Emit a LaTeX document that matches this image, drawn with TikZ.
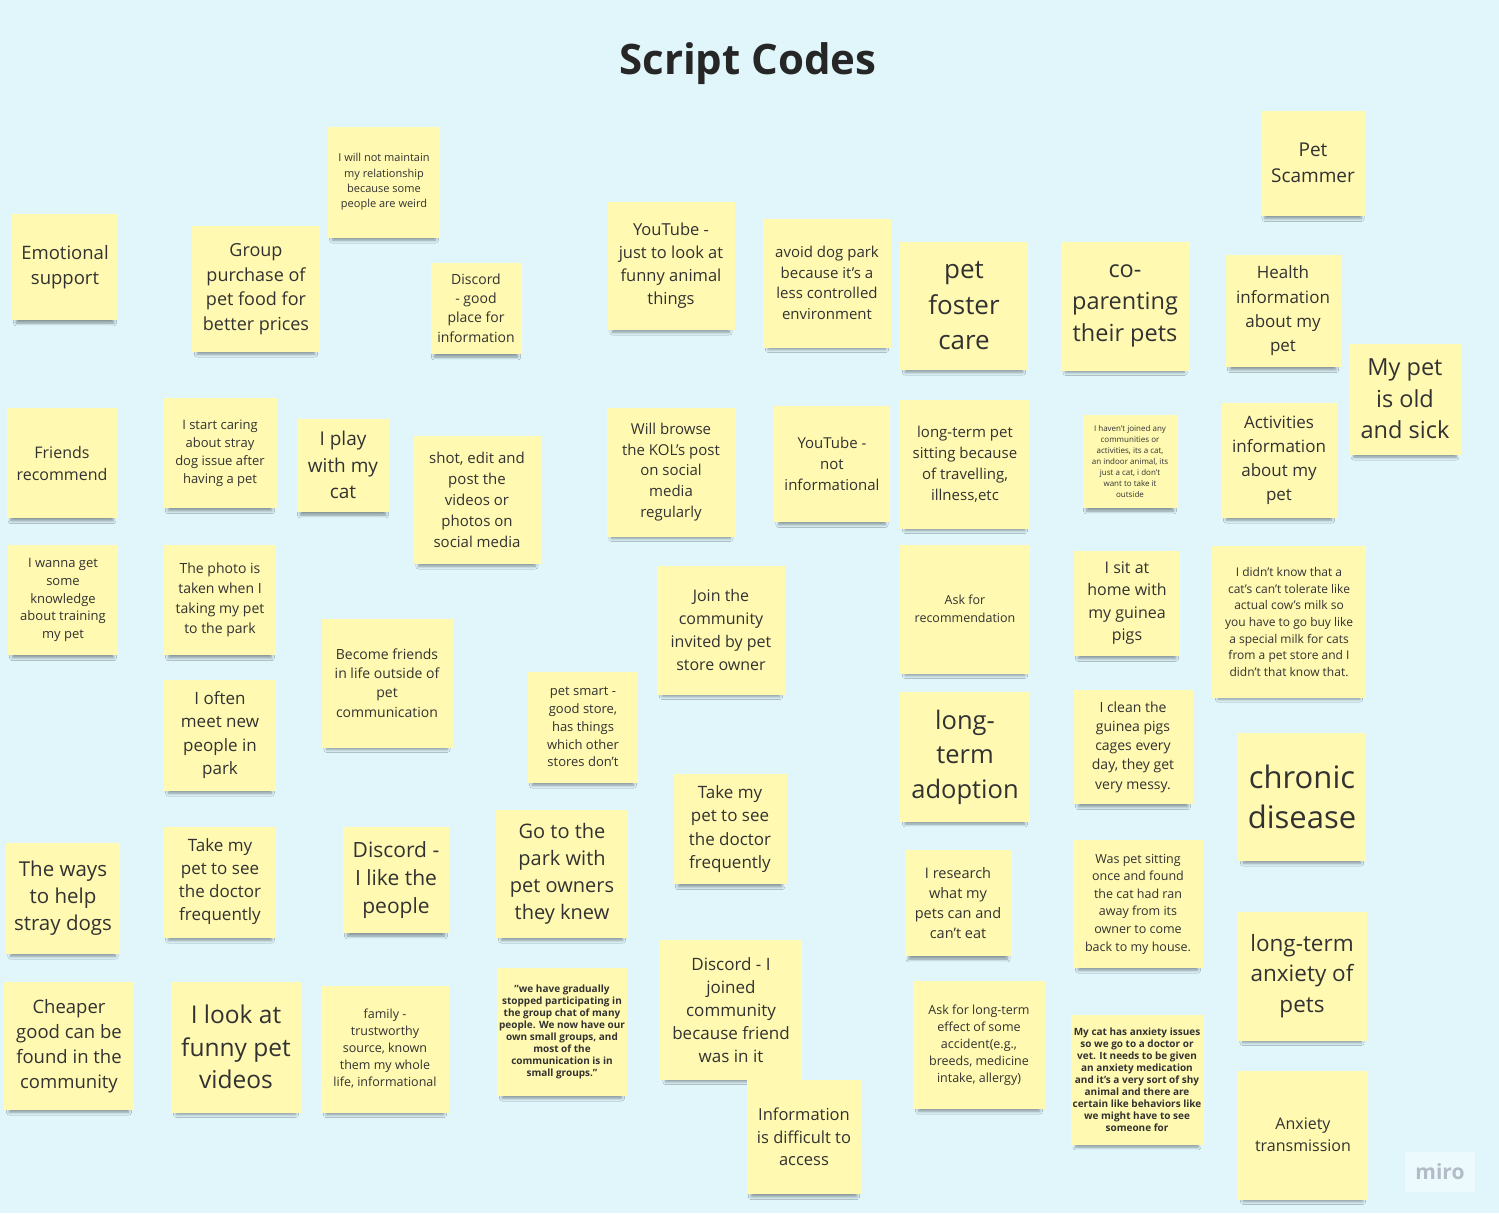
\documentclass[tikz,border=0pt]{standalone}
\usepackage{fontspec}
\setmainfont{Open Sans}
\usetikzlibrary{shadows.blur}

\definecolor{board}{RGB}{224,246,251}
\definecolor{sticky}{RGB}{255,249,177}
\definecolor{ink}{RGB}{50,50,50}
\definecolor{logo}{RGB}{178,188,198}

\begin{document}
\begin{tikzpicture}[x=1pt, y=-1pt,
  note/.style 2 args={fill=sticky, text=ink, align=center, inner sep=0pt,
    minimum width=#1pt, minimum height=#2pt,
    blur shadow={shadow xshift=0pt, shadow yshift=-8pt, shadow scale=0.92,
      shadow blur radius=3pt, shadow blur steps=6, shadow opacity=40}},
  fs/.style 2 args={font=\fontsize{#1}{#2}\selectfont}]

\fill[board] (0,0) rectangle (1499,1213);
\useasboundingbox (0,0) rectangle (1499,1213);

\node[font=\fontsize{42}{50}\selectfont\bfseries, text=black!85] (title) at (748,64) {Script Codes};

% first band
\node[note={106}{106}, fs={18.5}{25}] (emo) at (65,267) {Emotional\\support};
\node[note={128}{126}, fs={18}{24.7}] (group) at (256,289) {Group\\purchase of\\pet food for\\better prices};
\node[note={112}{111}, fs={11}{15.3}] (weird) at (384,182) {I will not maintain\\my relationship\\because some\\people are weird};
\node[note={91}{91}, fs={14}{19.3}] (discA) at (476,308) {Discord\\- good\\place for\\information};
\node[note={127}{128}, fs={16.5}{23}] (ytA) at (671,266) {YouTube -\\just to look at\\funny animal\\things};
\node[note={128}{129}, fs={15}{20.7}] (avoid) at (827,283) {avoid dog park\\because it's a\\less controlled\\environment};
\node[note={128}{128}, fs={26}{35.5}] (foster) at (964,306) {pet\\foster\\care};
\node[note={129}{129}, fs={23.5}{32}] (copar) at (1125,306) {co-\\parenting\\their pets};
\node[note={105}{105}, fs={19}{26}] (scam) at (1313,163) {Pet\\Scammer};
\node[note={115}{112}, fs={17}{24.3}] (health) at (1283,311) {Health\\information\\about my\\pet};
\node[note={111}{111}, fs={23.5}{31.5}] (old) at (1405,399) {My pet\\is old\\and sick};

% second band
\node[note={111}{110}, fs={16}{22}] (friends) at (62,463) {Friends\\recommend};
\node[note={113}{110}, fs={13}{18}] (stray) at (220,453) {I start caring\\about stray\\dog issue after\\having a pet};
\node[note={93}{93}, fs={19}{26.5}] (play) at (343,465) {I play\\with my\\cat};
\node[note={127}{128}, fs={15}{21}] (shot) at (477,500) {shot, edit and\\post the\\videos or\\photos on\\social media};
\node[note={129}{129}, fs={15}{20.8}] (kol) at (671,472) {Will browse\\the KOL's post\\on social\\media\\regularly};
\node[note={116}{116}, fs={15}{21}] (ytB) at (832,464) {YouTube -\\not\\informational};
\node[note={130}{129}, fs={15}{21}] (sitting) at (965,464) {long-term pet\\sitting because\\of travelling,\\illness,etc};
\node[note={95}{93}, fs={8}{11}] (indoor) at (1130,461) {I haven't joined any\\communities or\\activities, its a cat,\\an indoor animal, its\\just a cat, i don't\\want to take it\\outside};
\node[note={115}{115}, fs={17}{24}] (activ) at (1279,460) {Activities\\information\\about my\\pet};

% third band
\node[note={110}{110}, fs={13}{17.8}] (train) at (63,600) {I wanna get\\some\\knowledge\\about training\\my pet};
\node[note={112}{110}, fs={14}{20}] (photo) at (220,600) {The photo is\\taken when I\\taking my pet\\to the park};
\node[note={131}{129}, fs={14}{19.3}] (outside) at (387,683) {Become friends\\in life outside of\\pet\\communication};
\node[note={128}{129}, fs={16}{22.7}] (join) at (721,630) {Join the\\community\\invited by pet\\store owner};
\node[note={130}{129}, fs={12.5}{18}] (askrec) at (965,609) {Ask for\\recommendation};
\node[note={106}{105}, fs={16}{22.3}] (guinea) at (1127,603) {I sit at\\home with\\my guinea\\pigs};
\node[note={154}{152}, fs={12}{16.7}] (milk) at (1289,622) {I didn't know that a\\cat's can't tolerate like\\actual cow's milk so\\you have to go buy like\\a special milk for cats\\from a pet store and I\\didn't that know that.};
\node[note={112}{111}, fs={17}{23.3}] (meet) at (220,735) {I often\\meet new\\people in\\park};
\node[note={110}{111}, fs={13}{17.8}] (smart) at (583,727) {pet smart -\\good store,\\has things\\which other\\stores don't};
\node[note={130}{130}, fs={25.5}{34.5}] (adopt) at (965,757) {long-\\term\\adoption};
\node[note={119}{114}, fs={14}{19.2}] (clean) at (1133,747) {I clean the\\guinea pigs\\cages every\\day, they get\\very messy.};
\node[note={128}{128}, fs={31}{40}] (chronic) at (1302,797) {chronic\\disease};

% fourth band
\node[note={114}{111}, fs={20.5}{27}] (ways) at (63,898) {The ways\\to help\\stray dogs};
\node[note={112}{111}, fs={17}{23}] (docA) at (220,882) {Take my\\pet to see\\the doctor\\frequently};
\node[note={106}{106}, fs={21}{28}] (discB) at (396,880) {Discord -\\I like the\\people};
\node[note={132}{128}, fs={20}{27}] (park) at (562,874) {Go to the\\park with\\pet owners\\they knew};
\node[note={113}{110}, fs={17}{23.3}] (docB) at (730,829) {Take my\\pet to see\\the doctor\\frequently};
\node[note={107}{106}, fs={14.5}{20}] (research) at (958,903) {I research\\what my\\pets can and\\can't eat};
\node[note={130}{128}, fs={12.5}{17.6}] (ranaway) at (1138,904) {Was pet sitting\\once and found\\the cat had ran\\away from its\\owner to come\\back to my house.};
\node[note={129}{129}, fs={22.5}{30.5}] (anxlong) at (1302,976) {long-term\\anxiety of\\pets};

% bottom band
\node[note={130}{128}, fs={18.5}{25}] (cheap) at (69,1046) {Cheaper\\good can be\\found in the\\community};
\node[note={130}{131}, fs={24.5}{32.5}] (funny) at (236,1047) {I look at\\funny pet\\videos};
\node[note={128}{127}, fs={12.5}{17}] (family) at (385,1049) {family -\\trustworthy\\source, known\\them my whole\\life, informational};
\node[note={130}{128}, fs={8.3}{11.9}, font=\bfseries] (groups) at (562,1032) {"we have gradually\\stopped participating in\\the group chat of many\\people. We now have our\\own small groups, and\\most of the\\communication is in\\small groups."};
\node[note={142}{140}, fs={17}{23}] (discC) at (731,1010) {Discord - I\\joined\\community\\because friend\\was in it};
\node[note={132}{128}, fs={12.5}{17}] (askLong) at (979,1045) {Ask for long-term\\effect of some\\accident(e.g.,\\breeds, medicine\\intake, allergy)};
\node[note={133}{130}, fs={8.5}{12.2}, font=\bfseries] (anxcat) at (1137,1080) {My cat has anxiety issues\\so we go to a doctor or\\vet. It needs to be given\\an anxiety medication\\and it's a very sort of shy\\animal and there are\\certain like behaviors like\\we might have to see\\someone for};
\node[note={115}{114}, fs={16.5}{22.5}] (info) at (804,1137) {Information\\is difficult to\\access};
\node[note={130}{129}, fs={16}{22}] (trans) at (1303,1135) {Anxiety\\transmission};

\node[fill=white!40!board, text=logo, font=\fontsize{21}{24}\selectfont\bfseries,
  minimum width=70pt, minimum height=40pt] (miro) at (1440,1172) {miro};

\end{tikzpicture}
\end{document}
